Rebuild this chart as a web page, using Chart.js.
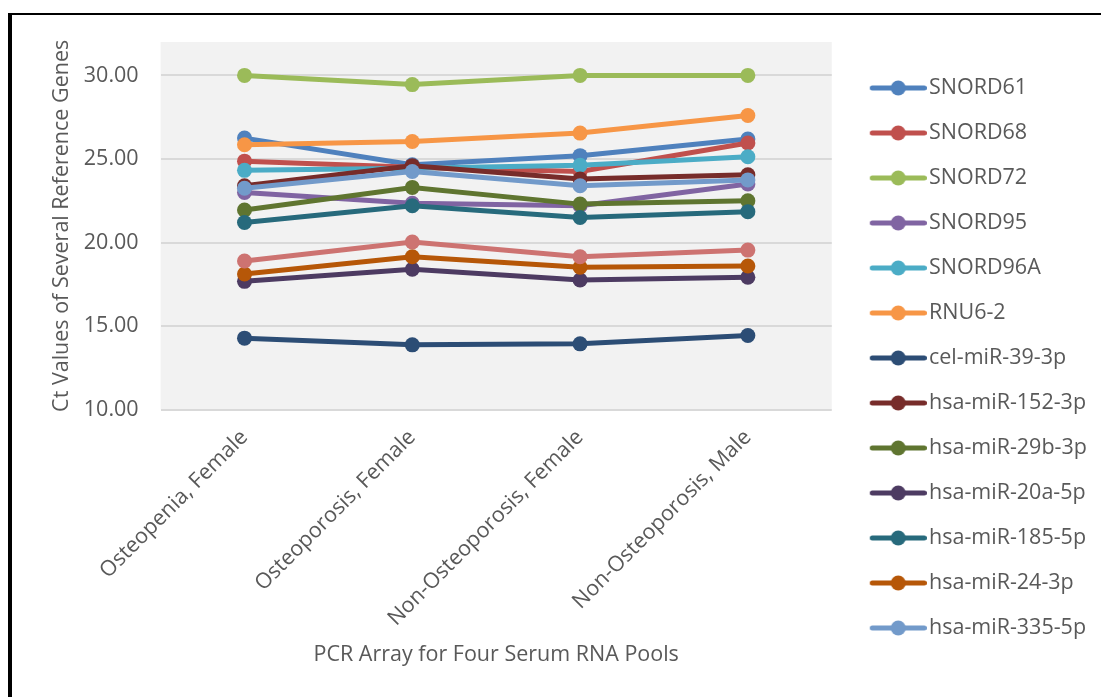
<!DOCTYPE html>
<html>
<head>
<meta charset="utf-8">
<script src="https://cdn.jsdelivr.net/npm/chart.js@4"></script>
<style>
  html, body { margin: 0; padding: 0; background: #fff; overflow: hidden; }
  #frame {
    position: absolute; left: 8px; top: 13px; width: 2000px; height: 2000px;
    border-left: 4px solid #000; border-top: 2px solid #000;
  }
  #wrap { position: absolute; left: 0; top: 0; width: 1101px; height: 697px; }
</style>
</head>
<body>
<div id="frame"></div>
<div id="wrap"><canvas id="ct-chart"></canvas></div>
<script>
const categories = [
  "Osteopenia, Female",
  "Osteoporosis, Female",
  "Non-Osteoporosis, Female",
  "Non-Osteoporosis, Male",
];

const snord61 = [26.25, 24.65, 25.2, 26.2];
const snord68 = [24.87, 24.5, 24.25, 25.96];
const snord72 = [30.0, 29.45, 30.0, 30.0];
const snord95 = [23.0, 22.35, 22.2, 23.5];
const snord96a = [24.32, 24.45, 24.62, 25.13];
const rnu62 = [25.85, 26.05, 26.55, 27.6];
const celMiR39 = [14.28, 13.88, 13.94, 14.44];
const miR152 = [23.4, 24.6, 23.8, 24.05];
const miR29b = [21.95, 23.3, 22.3, 22.5];
const miR20a = [17.68, 18.4, 17.76, 17.92];
const miR185 = [21.2, 22.2, 21.5, 21.85];
const miR24 = [18.12, 19.15, 18.52, 18.6];
const miR335 = [23.25, 24.25, 23.4, 23.75];
const series14 = [18.9, 20.03, 19.15, 19.55];

const yTicks = [10, 15, 20, 25, 30];

const series = [
  ["SNORD61", snord61, "#4F81BD"],
  ["SNORD68", snord68, "#C0504D"],
  ["SNORD72", snord72, "#9BBB59"],
  ["SNORD95", snord95, "#8064A2"],
  ["SNORD96A", snord96a, "#4BACC6"],
  ["RNU6-2", rnu62, "#F79646"],
  ["cel-miR-39-3p", celMiR39, "#2C4D75"],
  ["hsa-miR-152-3p", miR152, "#772C2A"],
  ["hsa-miR-29b-3p", miR29b, "#5F7530"],
  ["hsa-miR-20a-5p", miR20a, "#4D3B62"],
  ["hsa-miR-185-5p", miR185, "#276A7C"],
  ["hsa-miR-24-3p", miR24, "#B65708"],
  ["hsa-miR-335-5p", miR335, "#729ACA"],
  ["Series14", series14, "#CD7371"],
];
const legendCount = 13;

const textColor = "#595959";
const fontFamily = "'Open Sans', sans-serif";
const fontSize = 21.5;

// little line-with-marker swatches for the legend
function makeIcon(color) {
  const c = document.createElement("canvas");
  c.width = 80;
  c.height = 18;
  const g = c.getContext("2d");
  g.strokeStyle = color;
  g.lineWidth = 5;
  g.lineCap = "round";
  g.beginPath();
  g.moveTo(25.5, 9);
  g.lineTo(77.5, 9);
  g.stroke();
  g.fillStyle = color;
  g.beginPath();
  g.arc(51.5, 9, 7.5, 0, Math.PI * 2);
  g.fill();
  return c;
}
const icons = series.map((s) => makeIcon(s[2]));

const plotBackground = {
  id: "plotBackground",
  beforeDraw(chart) {
    const { ctx, chartArea } = chart;
    ctx.save();
    ctx.fillStyle = "#F2F2F2";
    ctx.fillRect(chartArea.left, chartArea.top, chartArea.width, chartArea.height);
    ctx.restore();
  },
};

const ctx = document.getElementById("ct-chart");

new Chart(ctx, {
  type: "line",
  data: {
    labels: categories,
    datasets: series.map(([label, data, color], i) => ({
      label,
      data,
      borderColor: color,
      backgroundColor: color,
      borderWidth: 5,
      pointRadius: 7.5,
      pointBorderWidth: 0,
      pointBackgroundColor: color,
      tension: 0,
      order: -i,
    })),
  },
  plugins: [plotBackground],
  options: {
    responsive: true,
    maintainAspectRatio: false,
    animation: false,
    layout: { padding: { left: 42, top: 42, right: 6, bottom: 23 } },
    plugins: {
      tooltip: { enabled: false },
      legend: {
        position: "right",
        align: "center",
        labels: {
          usePointStyle: true,
          pointStyleWidth: 63,
          padding: 23.5,
          color: textColor,
          font: { family: fontFamily, size: fontSize },
          filter: (item) => item.datasetIndex < legendCount,
          sort: (a, b) => a.datasetIndex - b.datasetIndex,
          generateLabels(chart) {
            const items = Chart.defaults.plugins.legend.labels.generateLabels(chart);
            items.forEach((item) => {
              item.pointStyle = icons[item.datasetIndex];
            });
            return items;
          },
        },
      },
    },
    scales: {
      x: {
        offset: true,
        grid: { display: false },
        border: { display: false },
        afterFit(scale) {
          scale.paddingLeft = 0;
          scale.paddingRight = 0;
        },
        ticks: {
          color: textColor,
          font: { family: fontFamily, size: fontSize },
          minRotation: 45,
          maxRotation: 45,
          labelOffset: 0,
          padding: 7,
        },
        title: {
          display: true,
          text: "PCR Array for Four Serum RNA Pools",
          color: textColor,
          font: { family: fontFamily, size: fontSize },
          padding: { top: 4, bottom: 6 },
        },
      },
      y: {
        min: 10,
        max: 32,
        afterBuildTicks(axis) {
          axis.ticks = yTicks.map((value) => ({ value }));
        },
        grid: { color: "#D9D9D9", lineWidth: 2, drawTicks: false },
        border: { display: false },
        ticks: {
          color: textColor,
          font: { family: fontFamily, size: fontSize },
          padding: 22,
          callback: (value) => Number(value).toFixed(2),
        },
        title: {
          display: true,
          text: "Ct Values of Several Reference Genes",
          color: textColor,
          font: { family: fontFamily, size: fontSize },
          padding: { top: 7, bottom: -13 },
        },
      },
    },
  },
});
</script>
</body>
</html>
